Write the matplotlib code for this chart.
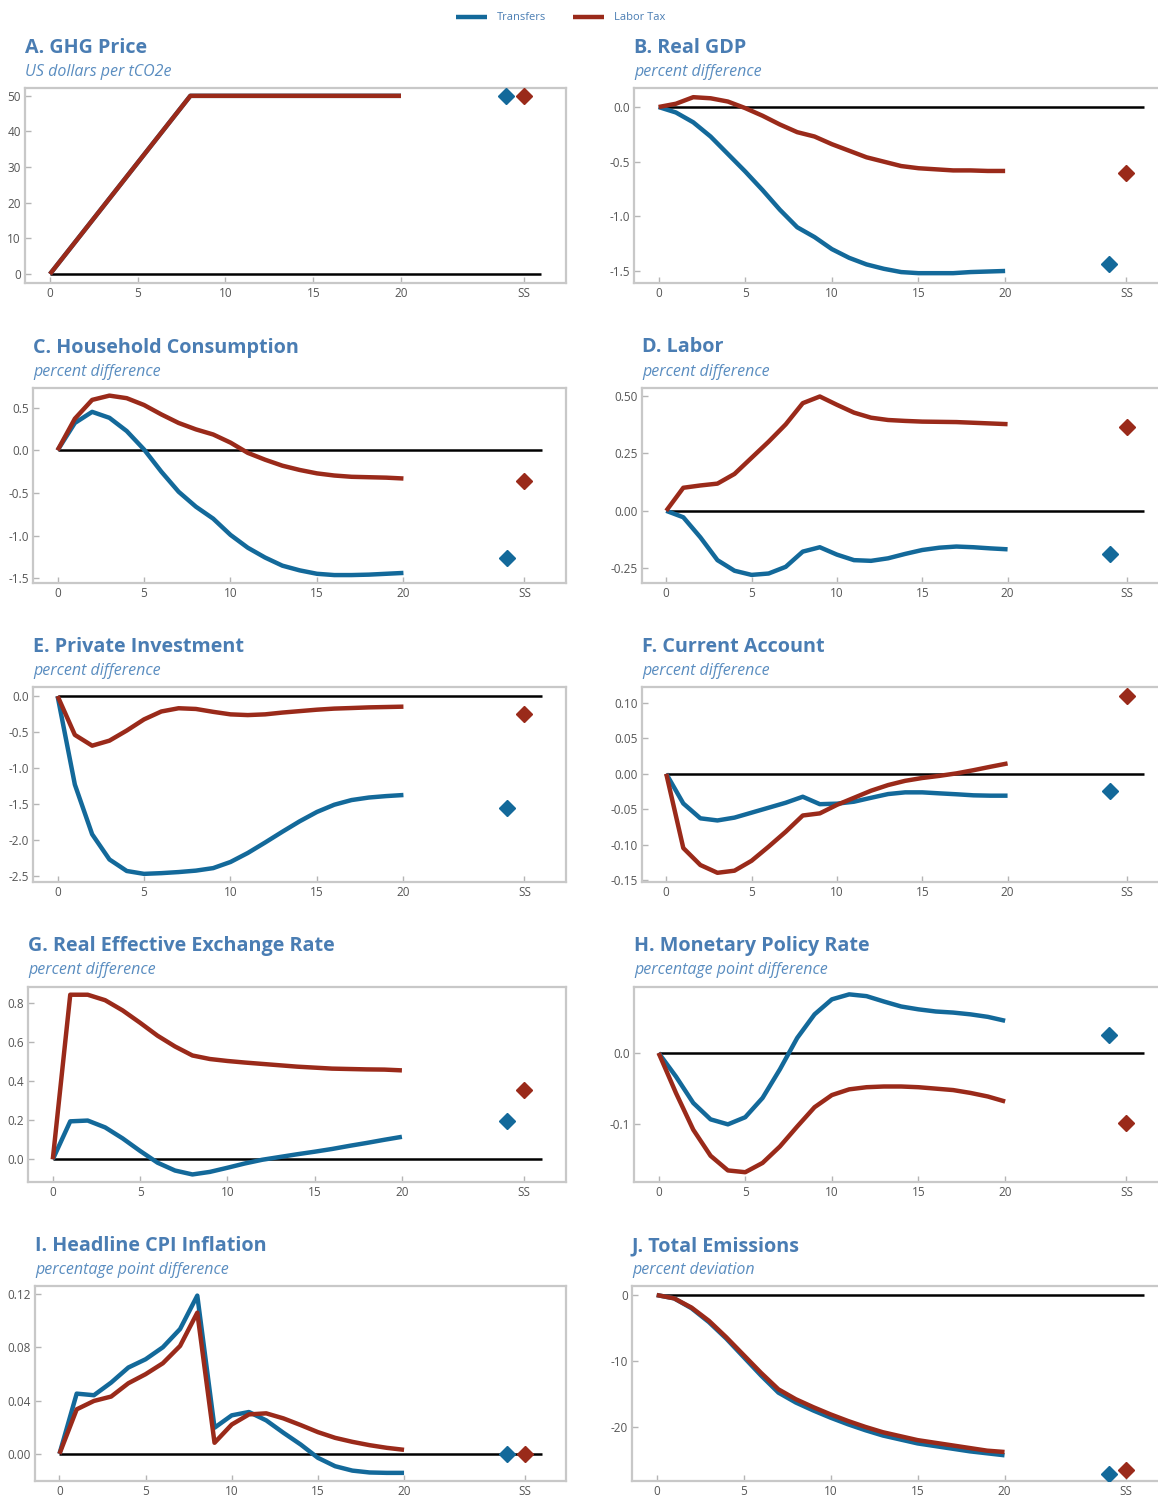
import matplotlib
matplotlib.use('Agg')
import matplotlib.pyplot as plt
from matplotlib.lines import Line2D

plt.rcParams['font.family'] = ['Open Sans', 'DejaVu Sans']
plt.rcParams['axes.unicode_minus'] = False

# ---------------- data ----------------
periods = list(range(21))
xtick_values = [0, 5, 10, 15, 20]
ss_label = 'SS'
series_names = ['Transfers', 'Labor Tax']

titles = ['A. GHG Price', 'B. Real GDP', 'C. Household Consumption', 'D. Labor',
          'E. Private Investment', 'F. Current Account', 'G. Real Effective Exchange Rate',
          'H. Monetary Policy Rate', 'I. Headline CPI Inflation', 'J. Total Emissions']
subtitles = ['US dollars per tCO2e', 'percent difference', 'percent difference',
             'percent difference', 'percent difference', 'percent difference',
             'percent difference', 'percentage point difference',
             'percentage point difference', 'percent deviation']

ghg_transfers = [0, 6.25, 12.5, 18.75, 25, 31.25, 37.5, 43.75, 50, 50, 50, 50, 50, 50, 50, 50, 50, 50, 50, 50, 50]
ghg_labor = [0, 6.25, 12.5, 18.75, 25, 31.25, 37.5, 43.75, 50, 50, 50, 50, 50, 50, 50, 50, 50, 50, 50, 50, 50]
ghg_ss = [50, 50]

gdp_transfers = [0, -0.05, -0.14, -0.27, -0.43, -0.59, -0.76, -0.94, -1.10, -1.19, -1.30, -1.38, -1.44,
                 -1.48, -1.51, -1.52, -1.52, -1.52, -1.51, -1.505, -1.50]
gdp_labor = [0, 0.03, 0.09, 0.08, 0.05, -0.01, -0.08, -0.16, -0.23, -0.27, -0.34, -0.40, -0.46,
             -0.50, -0.54, -0.56, -0.57, -0.58, -0.58, -0.585, -0.585]
gdp_ss = [-1.435, -0.60]

cons_transfers = [0, 0.32, 0.45, 0.38, 0.225, 0.01, -0.25, -0.485, -0.66, -0.80, -0.99, -1.14, -1.255,
                  -1.35, -1.405, -1.445, -1.46, -1.46, -1.455, -1.445, -1.435]
cons_labor = [0, 0.37, 0.59, 0.64, 0.61, 0.53, 0.42, 0.32, 0.245, 0.185, 0.09, -0.03, -0.11,
              -0.18, -0.23, -0.27, -0.295, -0.31, -0.315, -0.32, -0.33]
cons_ss = [-1.255, -0.355]

labor_transfers = [0, -0.028, -0.115, -0.214, -0.26, -0.278, -0.272, -0.243, -0.177, -0.158, -0.19,
                   -0.214, -0.217, -0.206, -0.187, -0.17, -0.16, -0.155, -0.158, -0.163, -0.167]
labor_labor = [0, 0.10, 0.11, 0.118, 0.16, 0.23, 0.30, 0.375, 0.467, 0.496, 0.46, 0.426, 0.404,
               0.394, 0.39, 0.387, 0.386, 0.385, 0.382, 0.379, 0.376]
labor_ss = [-0.187, 0.365]

inv_transfers = [0, -1.23, -1.92, -2.27, -2.43, -2.47, -2.46, -2.445, -2.425, -2.39, -2.305, -2.18,
                 -2.035, -1.885, -1.74, -1.61, -1.51, -1.445, -1.41, -1.39, -1.375]
inv_labor = [0, -0.54, -0.69, -0.62, -0.48, -0.325, -0.215, -0.17, -0.18, -0.22, -0.255, -0.265,
             -0.255, -0.23, -0.21, -0.19, -0.175, -0.167, -0.158, -0.153, -0.148]
inv_ss = [-1.55, -0.255]

ca_transfers = [0, -0.042, -0.063, -0.066, -0.062, -0.055, -0.048, -0.041, -0.0325, -0.043, -0.0423,
                -0.0395, -0.034, -0.0287, -0.0263, -0.0263, -0.0277, -0.029, -0.0305, -0.031, -0.031]
ca_labor = [0, -0.105, -0.129, -0.14, -0.137, -0.123, -0.103, -0.082, -0.059, -0.056, -0.044, -0.034,
            -0.024, -0.016, -0.010, -0.006, -0.003, 0.0005, 0.005, 0.0099, 0.0146]
ca_ss = [-0.024, 0.110]

reer_transfers = [0, 0.194, 0.198, 0.163, 0.107, 0.043, -0.017, -0.057, -0.077, -0.064, -0.043, -0.021,
                  -0.002, 0.012, 0.026, 0.039, 0.053, 0.069, 0.084, 0.10, 0.115]
reer_labor = [0, 0.84, 0.84, 0.812, 0.76, 0.697, 0.631, 0.576, 0.53, 0.512, 0.502, 0.494, 0.487,
              0.48, 0.473, 0.468, 0.463, 0.461, 0.459, 0.458, 0.454]
reer_ss = [0.194, 0.353]

rate_transfers = [0, -0.033, -0.070, -0.093, -0.100, -0.090, -0.063, -0.023, 0.021, 0.054, 0.075, 0.082,
                  0.0795, 0.072, 0.065, 0.061, 0.058, 0.0565, 0.054, 0.0505, 0.045]
rate_labor = [0, -0.056, -0.1075, -0.144, -0.1645, -0.167, -0.154, -0.131, -0.103, -0.076, -0.059,
              -0.051, -0.048, -0.047, -0.047, -0.048, -0.050, -0.052, -0.056, -0.061, -0.068]
rate_ss = [0.025, -0.098]

cpi_transfers = [0, 0.0452, 0.044, 0.0535, 0.0648, 0.071, 0.080, 0.0937, 0.1188, 0.0196, 0.0289, 0.0314,
                 0.0251, 0.0158, 0.007, -0.003, -0.0093, -0.0126, -0.014, -0.0143, -0.0143]
cpi_labor = [0, 0.0334, 0.0397, 0.043, 0.053, 0.0598, 0.068, 0.081, 0.106, 0.0083, 0.022, 0.0296,
             0.0304, 0.0266, 0.0216, 0.0163, 0.012, 0.009, 0.0065, 0.0045, 0.003]
cpi_ss = [0.0, 0.0]

emis_transfers = [0, -0.5, -2.0, -4.1, -6.6, -9.4, -12.2, -14.8, -16.3, -17.5, -18.6, -19.6, -20.5,
                  -21.3, -21.9, -22.5, -22.9, -23.3, -23.7, -24.0, -24.3]
emis_labor = [0, -0.5, -1.9, -3.9, -6.4, -9.1, -11.8, -14.3, -15.8, -17.0, -18.1, -19.1, -20.0,
              -20.8, -21.4, -22.0, -22.4, -22.8, -23.2, -23.6, -23.8]
emis_ss = [-27.2, -26.6]

yticks_list = [[0, 10, 20, 30, 40, 50], [0.0, -0.5, -1.0, -1.5], [0.5, 0.0, -0.5, -1.0, -1.5],
               [0.5, 0.25, 0.0, -0.25], [0.0, -0.5, -1.0, -1.5, -2.0, -2.5],
               [0.10, 0.05, 0.0, -0.05, -0.10, -0.15], [0.0, 0.2, 0.4, 0.6, 0.8], [0.0, -0.1],
               [0.0, 0.04, 0.08, 0.12], [0, -10, -20]]
ytick_fmt = ['{:.0f}', '{:.1f}', '{:.1f}', '{:.2f}', '{:.1f}', '{:.2f}', '{:.1f}', '{:.1f}', '{:.2f}', '{:.0f}']
ylims = [(-2.5, 52.2), (-1.61, 0.174), (-1.547, 0.735), (-0.311, 0.535), (-2.583, 0.125),
         (-0.153, 0.1226), (-0.113, 0.882), (-0.180, 0.093), (-0.0204, 0.126), (-28.2, 1.37)]

panels = [
    (ghg_transfers, ghg_labor, ghg_ss),
    (gdp_transfers, gdp_labor, gdp_ss),
    (cons_transfers, cons_labor, cons_ss),
    (labor_transfers, labor_labor, labor_ss),
    (inv_transfers, inv_labor, inv_ss),
    (ca_transfers, ca_labor, ca_ss),
    (reer_transfers, reer_labor, reer_ss),
    (rate_transfers, rate_labor, rate_ss),
    (cpi_transfers, cpi_labor, cpi_ss),
    (emis_transfers, emis_labor, emis_ss),
]

# ---------------- style ----------------
BLUE = '#13699a'
RED = '#9a2a1a'
TITLE_C = '#4a7db3'
SUB_C = '#5a8dc0'
TICK_C = '#555555'
SPINE_C = '#c8c8c8'

W, H = 1158, 1496
fig = plt.figure(figsize=(W / 100, H / 100), dpi=100)
fig.patch.set_facecolor('white')

lefts = [25, 634, 33, 642, 33, 642, 28, 634, 35, 632]
rights = [566, 1168]
top0, row_step, box_h = 88, 299.5, 195
XMIN, XMAX = -1.42, 29.4
SS_POS = 27
SS_BLUE = 26
ZERO_END = 28

first_lines = None
for i, (tr, lb, ss) in enumerate(panels):
    row, col = divmod(i, 2)
    top = top0 + row * row_step
    left = lefts[i]
    right = rights[col]
    ax = fig.add_axes([left / W, 1 - (top + box_h) / H, (right - left) / W, box_h / H])
    ax.set_xlim(XMIN, XMAX)
    ax.set_ylim(*ylims[i])
    ax.plot([0, ZERO_END], [0, 0], color='black', lw=1.8, zorder=2, solid_capstyle='butt')
    l1, = ax.plot(periods, tr, color=BLUE, lw=3.2, zorder=3, solid_capstyle='butt')
    l2, = ax.plot(periods, lb, color=RED, lw=3.2, zorder=4, solid_capstyle='butt')
    if first_lines is None:
        first_lines = [l1, l2]
    ax.plot([SS_BLUE], [ss[0]], marker='D', color=BLUE, markersize=8, ls='none', zorder=5)
    ax.plot([SS_POS], [ss[1]], marker='D', color=RED, markersize=8, ls='none', zorder=5)

    ax.set_xticks(xtick_values + [SS_POS])
    ax.set_xticklabels([str(v) for v in xtick_values] + [ss_label])
    yt = yticks_list[i]
    ax.set_yticks(yt)
    ax.set_yticklabels([ytick_fmt[i].format(v) for v in yt])
    ax.tick_params(direction='in', length=4, width=1, color='#b5b5b5',
                   labelsize=8.5, labelcolor=TICK_C, pad=3)
    for sp in ax.spines.values():
        sp.set_color(SPINE_C)
        sp.set_linewidth(1.6)

    fig.text(left / W, 1 - (top - 40) / H, titles[i], fontsize=14.2, fontweight='bold',
             color=TITLE_C, ha='left', va='center')
    fig.text(left / W, 1 - (top - 16) / H, subtitles[i], fontsize=11.5, style='italic',
             color=SUB_C, ha='left', va='center')

fig.legend(handles=first_lines, labels=series_names, loc='center',
           bbox_to_anchor=(561 / W, 1 - 18 / H), ncol=2, frameon=False, fontsize=8,
           handlelength=2.8, handletextpad=0.9, columnspacing=2.4, labelcolor=TITLE_C)

fig.savefig('out.png', dpi=100, facecolor='white')
